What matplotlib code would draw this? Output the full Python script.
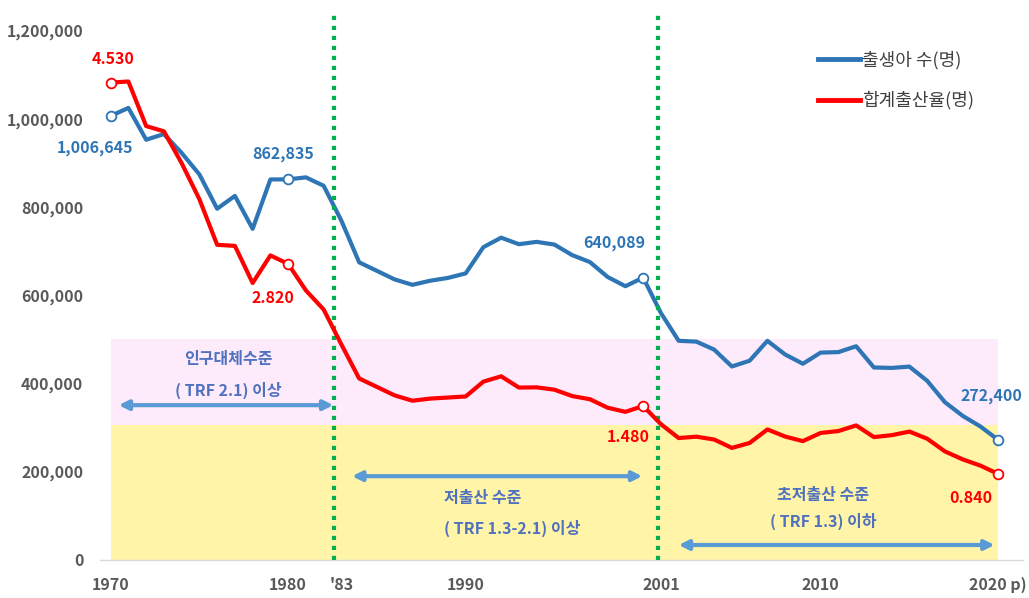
#!/usr/bin/env python3
import matplotlib
matplotlib.use("Agg")
import matplotlib.pyplot as plt
from matplotlib.lines import Line2D
from matplotlib.ticker import FuncFormatter

# --- Configuration ---
OUTPUT_IMAGE_FILE = "out.png"
FIG_W_PX, FIG_H_PX = 1029, 598

# --- Data: births and total fertility rate, Korea 1970-2020 ---
years = list(range(1970, 2021))
births = [1006645, 1024773, 952780, 965521, 922823, 874030, 796331, 825339, 750728, 862669,
          862835, 867409, 848312, 769155, 674793, 655489, 636019, 623831, 633092, 639431,
          649738, 709275, 730678, 715826, 721185, 715020, 691226, 675394, 641594, 620668,
          640089, 559934, 496911, 495036, 476958, 438707, 451759, 496822, 465892, 444849,
          470171, 471265, 484550, 436455, 435435, 438420, 406243, 357771, 326822, 302676,
          272400]
tfr = [4.53, 4.54, 4.12, 4.07, 3.77, 3.43, 3.00, 2.99, 2.64, 2.90,
       2.82, 2.57, 2.39, 2.06, 1.74, 1.66, 1.58, 1.53, 1.55, 1.56,
       1.57, 1.71, 1.76, 1.654, 1.656, 1.634, 1.574, 1.544, 1.464, 1.425,
       1.480, 1.309, 1.178, 1.191, 1.164, 1.085, 1.132, 1.259, 1.192, 1.149,
       1.226, 1.244, 1.297, 1.187, 1.205, 1.239, 1.172, 1.052, 0.977, 0.918,
       0.840]

marked_years = [1970, 1980, 2000, 2020]
births_labels = ["1,006,645", "862,835", "640,089", "272,400"]
tfr_labels = ["4.530", "2.820", "1.480", "0.840"]

x_ticks = [1970, 1980, 1983, 1990, 2001, 2010, 2020]
x_tick_labels = ["1970", "1980", "'83", "1990", "2001", "2010", "2020 p)"]
y_ticks = [0, 200000, 400000, 600000, 800000, 1000000, 1200000]

period_bounds = [1982.6, 2000.85]          # green dotted separators
band_yellow = (0, 305000)                  # below replacement band
band_pink = (305000, 500000)

# --- Colours ---
BLUE = "#2e75b6"
RED = "#ff0000"
GREEN = "#00b050"
ARROW = "#5b9bd5"
NOTE = "#4f71be"
GRAY = "#595959"


def main():
    plt.rcParams['font.family'] = ['Noto Sans CJK KR', 'DejaVu Sans']

    fig = plt.figure(figsize=(FIG_W_PX / 100, FIG_H_PX / 100), dpi=100)
    ax = fig.add_axes([100 / FIG_W_PX, 38 / FIG_H_PX, 923 / FIG_W_PX, 547 / FIG_H_PX])
    ax.set_xlim(1969.4, 2021.4)
    ax.set_ylim(0, 1240000)

    # background bands
    ax.fill_between([years[0], years[-1]], *band_yellow, color="#fff4a8", lw=0, zorder=0)
    ax.fill_between([years[0], years[-1]], *band_pink, color="#fdeafb", lw=0, zorder=0)

    # period separators
    for xb in period_bounds:
        ax.axvline(xb, color=GREEN, lw=3, linestyle=(0, (1, 1.4)), zorder=4)

    # births line
    ax.plot(years, births, color=BLUE, lw=3, zorder=3, solid_joinstyle='round')
    mb = [births[years.index(y)] for y in marked_years]
    ax.plot(marked_years, mb, 'o', ms=7, mfc='white', mec=BLUE, mew=1.3, zorder=5)

    # TFR on a hidden secondary axis
    ax2 = ax.twinx()
    ax2.set_ylim(0.028, 5.186)
    ax2.plot(years, tfr, color=RED, lw=3, zorder=3, solid_joinstyle='round')
    mt = [tfr[years.index(y)] for y in marked_years]
    ax2.plot(marked_years, mt, 'o', ms=7, mfc='white', mec=RED, mew=1.3, zorder=5)
    ax2.set_yticks([])
    for s in ax2.spines.values():
        s.set_visible(False)

    # value labels (offsets in points from the marker)
    b_off = [(-11.5, -23), (-3.6, 18.4), (-21, 25), (-5, 31.7)]
    t_off = [(2, 17), (-10.8, -24.5), (-10.8, -22.3), (-19.4, -17.3)]
    for yr, v, lab, off in zip(marked_years, mb, births_labels, b_off):
        ax.annotate(lab, (yr, v), xytext=off, textcoords='offset points',
                    ha='center', va='center', color=BLUE, fontsize=11.5,
                    fontweight='bold', zorder=6)
    for yr, v, lab, off in zip(marked_years, mt, tfr_labels, t_off):
        ax2.annotate(lab, (yr, v), xytext=off, textcoords='offset points',
                     ha='center', va='center', color=RED, fontsize=11.5,
                     fontweight='bold', zorder=6)

    # period arrows and notes
    arrows = [((1970.45, 351000), (1982.55, 351000)),
              ((1983.6, 190000), (1999.95, 190000)),
              ((2002.0, 34000), (2019.8, 34000))]
    for a, b in arrows:
        ax.annotate("", xy=b, xytext=a,
                    arrowprops=dict(arrowstyle="<|-|>", color=ARROW, lw=3,
                                    mutation_scale=14, shrinkA=0, shrinkB=0),
                    zorder=4)

    note_kw = dict(color=NOTE, fontsize=11.5, fontweight='bold', va='center')
    ax.text(1976.65, 455000, "인구대체수준", ha='center', **note_kw)
    ax.text(1976.65, 385000, "( TRF 2.1) 이상", ha='center', **note_kw)
    ax.text(1988.8, 140000, "저출산 수준", ha='left', **note_kw)
    ax.text(1988.8, 72000, "( TRF 1.3-2.1) 이상", ha='left', **note_kw)
    ax.text(2010.15, 147000, "초저출산 수준", ha='center', **note_kw)
    ax.text(2010.15, 88000, "( TRF 1.3) 이하", ha='center', **note_kw)

    # axes styling
    ax.set_xticks(x_ticks)
    ax.set_xticklabels(x_tick_labels)
    ax.set_yticks(y_ticks)
    ax.yaxis.set_major_formatter(FuncFormatter(lambda v, p: f"{int(v):,}"))
    ax.tick_params(length=0, labelsize=11.5, labelcolor=GRAY, pad=12)
    for lab in ax.get_xticklabels() + ax.get_yticklabels():
        lab.set_fontweight('bold')
    for k in ("top", "right", "left"):
        ax.spines[k].set_visible(False)
    ax.spines["bottom"].set_color("#d9d9d9")
    ax.spines["bottom"].set_linewidth(1)

    # legend
    handles = [Line2D([0], [0], color=BLUE, lw=3.5),
               Line2D([0], [0], color=RED, lw=3.5)]
    leg = ax2.legend(handles, ["출생아 수(명)", "합계출산율(명)"],
                     loc='upper left', bbox_to_anchor=(818 / FIG_W_PX, 1 - 51 / FIG_H_PX),
                     bbox_transform=fig.transFigure, frameon=False, fontsize=13,
                     handlelength=2.3, handletextpad=0.15, labelspacing=1.2,
                     borderaxespad=0, borderpad=0)
    for t in leg.get_texts():
        t.set_color("#404040")

    fig.savefig(OUTPUT_IMAGE_FILE, dpi=100)


if __name__ == "__main__":
    main()
